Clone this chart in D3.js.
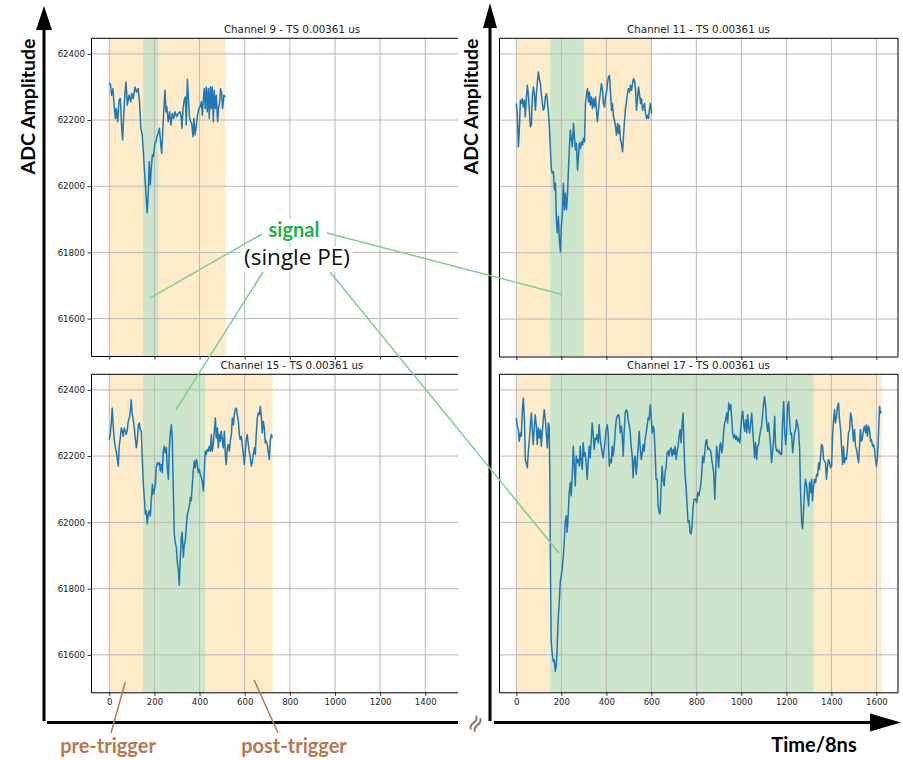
<!DOCTYPE html>
<html><head><meta charset="utf-8">
<script src="https://cdn.jsdelivr.net/npm/d3@7"></script>
<style>html,body{margin:0;padding:0;background:#fff}svg{display:block}</style>
</head><body>
<svg id="chart" width="903" height="760"></svg>
<script>
// ---------------- data ----------------
const xTicks = [0, 200, 400, 600, 800, 1000, 1200, 1400, 1600];
const yTicks = [61600, 61800, 62000, 62200, 62400];
const panelTitles = ["Channel 9 - TS 0.00361 us", "Channel 11 - TS 0.00361 us", "Channel 15 - TS 0.00361 us", "Channel 17 - TS 0.00361 us"];
const windowStart = [0, 0, 0, 0];
const signalStart = [150, 150, 150, 150];
const signalEnd = [217, 300, 425, 1321];
const windowEnd = [515, 600, 724, 1624];

const ch9 = [[0,62313],[6,62305],[10,62275],[16,62295],[22,62240],[27,62205],[31,62235],[37,62195],[43,62260],[49,62265],[55,62175],[59,62140],[64,62215],[69,62275],[74,62315],[80,62245],[87,62275],[95,62255],[99,62280],[106,62265],[114,62300],[121,62285],[128,62295],[134,62255],[140,62175],[146,62155],[151,62105],[155,62055],[160,62005],[164,61960],[168,61920],[173,61985],[177,62075],[182,62005],[186,62055],[191,62095],[196,62090],[202,62130],[207,62135],[211,62150],[217,62160],[222,62175],[227,62135],[232,62100],[236,62155],[241,62225],[247,62290],[251,62225],[255,62240],[261,62195],[267,62225],[273,62185],[279,62220],[285,62205],[291,62225],[298,62210],[306,62220],[313,62225],[318,62215],[322,62175],[327,62235],[332,62260],[337,62270],[341,62185],[346,62323],[350,62275],[355,62210],[360,62195],[365,62190],[371,62150],[375,62205],[380,62155],[386,62185],[391,62215],[397,62235],[402,62240],[408,62255],[412,62215],[417,62265],[421,62295],[425,62235],[430,62300],[434,62225],[439,62295],[443,62205],[448,62300],[452,62235],[456,62300],[461,62195],[465,62290],[470,62235],[474,62275],[480,62195],[484,62235],[489,62255],[493,62295],[498,62280],[502,62235],[508,62275],[514,62270]];

const ch11 = [[0,62250],[4,62220],[9,62120],[13,62165],[18,62260],[22,62250],[27,62265],[31,62240],[36,62260],[40,62210],[45,62270],[49,62305],[53,62280],[58,62230],[62,62180],[67,62185],[71,62270],[76,62300],[80,62280],[85,62230],[89,62280],[93,62310],[98,62345],[102,62325],[107,62310],[111,62280],[116,62250],[120,62230],[125,62240],[129,62270],[134,62280],[138,62260],[142,62230],[147,62180],[151,62120],[156,62050],[160,62040],[165,62045],[169,61990],[174,62010],[178,61900],[182,61860],[187,61910],[191,61840],[196,61802],[200,61880],[205,61920],[209,62010],[214,61930],[218,61980],[223,61930],[227,61970],[231,62040],[236,62120],[240,62170],[245,62140],[249,62120],[254,62190],[258,62150],[263,62110],[267,62130],[272,62050],[276,62090],[280,62130],[285,62115],[289,62135],[294,62125],[298,62145],[303,62135],[307,62250],[312,62280],[316,62295],[321,62255],[325,62285],[329,62245],[334,62270],[338,62235],[343,62265],[347,62240],[352,62270],[356,62230],[360,62195],[365,62230],[369,62260],[374,62285],[378,62310],[383,62290],[387,62250],[392,62240],[396,62270],[401,62285],[405,62310],[409,62330],[414,62335],[418,62290],[423,62230],[427,62250],[432,62210],[436,62200],[441,62180],[445,62155],[450,62190],[454,62160],[458,62185],[463,62140],[467,62130],[472,62105],[476,62150],[481,62200],[485,62235],[490,62260],[494,62280],[498,62295],[503,62285],[507,62305],[512,62290],[516,62310],[521,62325],[525,62320],[530,62290],[534,62230],[539,62270],[543,62300],[547,62280],[552,62250],[556,62265],[561,62230],[565,62240],[570,62250],[574,62220],[579,62205],[583,62215],[587,62205],[592,62235],[596,62250],[601,62220]];

const ch15 = [[0,62250],[4,62265],[9,62300],[13,62345],[18,62285],[22,62250],[27,62225],[31,62215],[35,62195],[40,62170],[44,62230],[49,62255],[53,62285],[58,62275],[62,62260],[66,62285],[71,62275],[75,62265],[80,62280],[84,62305],[89,62315],[93,62335],[97,62370],[102,62325],[106,62310],[111,62285],[115,62255],[120,62225],[124,62245],[129,62295],[133,62300],[137,62280],[142,62275],[146,62195],[151,62115],[155,62075],[160,62025],[164,62035],[168,61995],[173,62025],[177,62035],[182,62020],[186,62065],[191,62115],[195,62085],[199,62095],[204,62115],[208,62165],[213,62180],[217,62175],[222,62180],[226,62155],[230,62175],[235,62150],[239,62215],[244,62230],[248,62210],[253,62225],[257,62165],[262,62130],[266,62225],[270,62265],[275,62295],[279,62255],[284,62085],[288,61965],[292,61940],[297,61925],[301,61885],[306,61855],[310,61810],[315,61895],[319,61955],[323,61970],[328,61895],[332,61930],[337,61945],[341,61985],[346,62025],[350,62035],[355,62050],[359,62075],[363,62065],[368,62115],[372,62155],[377,62185],[381,62165],[386,62190],[390,62175],[394,62150],[399,62160],[403,62145],[408,62135],[412,62125],[417,62095],[421,62155],[425,62215],[430,62205],[434,62220],[439,62215],[443,62230],[448,62215],[452,62265],[456,62215],[461,62235],[465,62275],[470,62315],[474,62255],[479,62285],[483,62225],[487,62265],[492,62245],[496,62275],[501,62250],[505,62225],[510,62275],[514,62205],[518,62175],[523,62225],[527,62235],[532,62215],[536,62245],[541,62265],[545,62315],[550,62295],[554,62325],[558,62340],[563,62345],[567,62325],[572,62305],[576,62265],[580,62250],[585,62260],[589,62235],[594,62205],[598,62175],[603,62215],[607,62250],[611,62265],[616,62235],[620,62215],[625,62195],[629,62170],[634,62185],[638,62205],[643,62225],[647,62205],[651,62265],[656,62315],[660,62330],[665,62325],[669,62350],[674,62315],[678,62270],[682,62305],[687,62285],[691,62240],[695,62245],[700,62235],[704,62215],[709,62190],[713,62245],[718,62265],[722,62255]];

const ch17 = [[0,62315],[4,62290],[9,62280],[13,62245],[18,62270],[22,62260],[27,62340],[31,62375],[36,62310],[40,62190],[44,62180],[49,62165],[53,62210],[58,62250],[62,62290],[67,62330],[71,62280],[75,62235],[80,62290],[84,62325],[89,62290],[93,62235],[98,62285],[102,62255],[107,62280],[111,62230],[115,62270],[120,62310],[124,62340],[129,62310],[133,62270],[138,62225],[142,62300],[146,62290],[149,62130],[152,61830],[155,61640],[160,61600],[164,61580],[169,61585],[173,61550],[178,61570],[182,61630],[186,61710],[191,61760],[195,61820],[200,61840],[204,61860],[209,61900],[213,61940],[217,62000],[222,62020],[226,61970],[231,62030],[235,62090],[240,62120],[244,62080],[249,62150],[253,62230],[257,62180],[262,62110],[266,62200],[271,62180],[275,62190],[280,62170],[284,62230],[288,62190],[293,62160],[297,62240],[302,62200],[306,62210],[311,62170],[315,62130],[320,62190],[324,62230],[328,62195],[333,62250],[337,62300],[342,62260],[346,62220],[351,62255],[355,62250],[359,62265],[364,62240],[368,62295],[373,62250],[377,62230],[382,62210],[386,62195],[390,62220],[395,62250],[399,62280],[404,62295],[408,62270],[413,62170],[417,62190],[422,62180],[426,62230],[430,62200],[435,62230],[439,62270],[444,62310],[448,62320],[453,62325],[457,62320],[462,62270],[466,62290],[470,62270],[475,62200],[479,62270],[484,62330],[488,62340],[493,62335],[497,62310],[501,62295],[506,62275],[510,62230],[515,62200],[519,62135],[524,62190],[528,62200],[533,62145],[537,62180],[541,62220],[546,62275],[550,62230],[555,62190],[559,62205],[564,62235],[568,62215],[572,62250],[577,62270],[581,62290],[586,62315],[590,62310],[595,62355],[599,62320],[604,62270],[608,62290],[612,62280],[617,62210],[621,62130],[626,62130],[630,62050],[635,62030],[639,62025],[643,62100],[648,62170],[652,62130],[657,62110],[661,62150],[666,62170],[670,62210],[675,62215],[679,62200],[683,62220],[688,62225],[692,62200],[697,62220],[701,62205],[706,62230],[710,62190],[715,62215],[719,62230],[723,62260],[728,62280],[732,62240],[737,62300],[741,62330],[746,62210],[750,62140],[754,62110],[759,62050],[763,62000],[768,62005],[772,61970],[777,61965],[781,61990],[785,62045],[790,62070],[797,62070],[802,62060],[806,62090],[811,62080],[815,62095],[819,62110],[824,62150],[828,62200],[833,62180],[837,62210],[842,62245],[846,62250],[851,62220],[855,62225],[859,62220],[864,62215],[868,62190],[873,62170],[877,62150],[882,62070],[886,62150],[890,62230],[895,62200],[899,62165],[904,62230],[908,62240],[913,62210],[917,62230],[922,62280],[926,62300],[930,62310],[935,62330],[939,62300],[944,62360],[948,62340],[953,62355],[957,62315],[961,62270],[966,62255],[970,62265],[975,62250],[979,62260],[984,62245],[988,62255],[993,62240],[997,62280],[1001,62315],[1006,62335],[1010,62300],[1015,62275],[1019,62310],[1024,62270],[1028,62325],[1032,62290],[1037,62270],[1041,62300],[1046,62330],[1050,62285],[1055,62235],[1059,62195],[1063,62240],[1068,62190],[1072,62230],[1077,62235],[1081,62260],[1086,62280],[1090,62290],[1095,62330],[1099,62360],[1103,62380],[1108,62350],[1112,62300],[1117,62275],[1121,62300],[1126,62260],[1130,62230],[1134,62180],[1139,62215],[1143,62250],[1148,62320],[1152,62230],[1157,62215],[1161,62220],[1166,62210],[1170,62215],[1174,62205],[1179,62205],[1183,62300],[1188,62365],[1192,62280],[1197,62235],[1201,62270],[1205,62350],[1210,62365],[1214,62310],[1219,62265],[1223,62270],[1228,62210],[1232,62240],[1237,62270],[1241,62280],[1245,62310],[1250,62295],[1254,62280],[1259,62220],[1263,62090],[1268,62000],[1272,61980],[1276,62030],[1281,62100],[1285,62130],[1290,62110],[1294,62080],[1299,62050],[1303,62120],[1308,62090],[1312,62130],[1316,62065],[1321,62110],[1325,62130],[1330,62120],[1334,62145],[1339,62140],[1343,62180],[1347,62160],[1352,62200],[1356,62235],[1361,62230],[1365,62190],[1370,62185],[1374,62180],[1378,62130],[1383,62170],[1387,62190],[1392,62180],[1396,62165],[1401,62170],[1405,62260],[1410,62310],[1414,62340],[1418,62300],[1423,62320],[1427,62350],[1432,62360],[1436,62310],[1441,62280],[1445,62230],[1450,62175],[1454,62230],[1458,62180],[1463,62195],[1467,62190],[1472,62230],[1476,62270],[1481,62280],[1485,62330],[1489,62320],[1494,62280],[1498,62245],[1503,62280],[1507,62230],[1512,62220],[1516,62200],[1521,62180],[1525,62230],[1529,62280],[1534,62245],[1538,62255],[1543,62280],[1547,62290],[1552,62270],[1556,62295],[1560,62260],[1565,62290],[1569,62280],[1574,62245],[1578,62250],[1583,62230],[1587,62235],[1592,62220],[1596,62190],[1600,62170],[1605,62200],[1609,62260],[1614,62350],[1618,62330],[1622,62335]];

const seriesList = [ch9, ch11, ch15, ch17];

// annotation anchor points in each panel's data space [t, ADC]
const signalTargets = [[180, 61662], [199, 61675], [295, 62340], [190, 61907]];
const preTriggerTarget = [71, 61518];
const postTriggerTarget = [642, 61524];

// ---------------- layout ----------------
const svg = d3.select("#chart");
const leftDomain = [-81, 1700], rightDomain = [-77, 1696];
const yDomain = [61487, 62447];
const boxes = [
  {x0: 91, x1: 493, y0: 38.3, y1: 356, clipX: 458, dom: leftDomain, yLab: true, xLab: false},
  {x0: 499, x1: 898, y0: 38.3, y1: 356.5, clipX: 903, dom: rightDomain, yLab: false, xLab: false},
  {x0: 91, x1: 493, y0: 374.3, y1: 692.3, clipX: 458, dom: leftDomain, yLab: true, xLab: true},
  {x0: 499, x1: 898, y0: 374.3, y1: 692.3, clipX: 903, dom: rightDomain, yLab: false, xLab: true}
];
const ORANGE = "#fdebc9", GREEN = "#cde5cb", GRID = "#b8b8b8", LINE = "#1f77b4";
const defs = svg.append("defs");
const scales = [];

boxes.forEach((b, i) => {
  const x = d3.scaleLinear().domain(b.dom).range([b.x0, b.x1]);
  const y = d3.scaleLinear().domain(yDomain).range([b.y1, b.y0]);
  scales.push({x, y});
  defs.append("clipPath").attr("id", "clip" + i).append("rect")
    .attr("x", b.x0 - 60).attr("y", b.y0 - 20).attr("width", Math.min(b.clipX, b.x1 + 2) - (b.x0 - 60)).attr("height", b.y1 - b.y0 + 40);
  defs.append("clipPath").attr("id", "plot" + i).append("rect")
    .attr("x", b.x0).attr("y", b.y0).attr("width", Math.min(b.clipX, b.x1) - b.x0).attr("height", b.y1 - b.y0);

  const g = svg.append("g").attr("clip-path", `url(#clip${i})`);
  const p = g.append("g").attr("clip-path", `url(#plot${i})`);
  // trigger windows
  p.append("rect").attr("x", x(windowStart[i])).attr("y", b.y0)
    .attr("width", x(windowEnd[i]) - x(windowStart[i])).attr("height", b.y1 - b.y0).attr("fill", ORANGE);
  p.append("rect").attr("x", x(signalStart[i])).attr("y", b.y0)
    .attr("width", x(signalEnd[i]) - x(signalStart[i])).attr("height", b.y1 - b.y0).attr("fill", GREEN);
  // grid
  p.selectAll(".gx").data(xTicks).join("line")
    .attr("x1", d => x(d)).attr("x2", d => x(d)).attr("y1", b.y0).attr("y2", b.y1)
    .attr("stroke", GRID).attr("stroke-width", 1);
  p.selectAll(".gy").data(yTicks).join("line")
    .attr("x1", b.x0).attr("x2", b.x1).attr("y1", d => y(d)).attr("y2", d => y(d))
    .attr("stroke", GRID).attr("stroke-width", 1);
  // waveform
  p.append("path").datum(seriesList[i])
    .attr("d", d3.line().x(d => x(d[0])).y(d => y(d[1])))
    .attr("fill", "none").attr("stroke", LINE).attr("stroke-width", 1.5).attr("stroke-linejoin", "round");

  // axes
  const ax = g.append("g").attr("transform", `translate(0,${b.y1})`)
    .call(d3.axisBottom(x).tickValues(xTicks).tickSize(3.5).tickSizeOuter(0).tickPadding(3)
      .tickFormat(b.xLab ? d3.format("d") : () => ""));
  ax.select(".domain").attr("stroke", "#000").attr("stroke-width", 1);
  ax.selectAll(".tick line").attr("stroke", "#000").attr("stroke-width", 0.8);
  ax.selectAll("text").attr("font-family", "DejaVu Sans").attr("font-size", 8.6).attr("fill", "#222");
  const ay = g.append("g").attr("transform", `translate(${b.x0},0)`)
    .call(d3.axisLeft(y).tickValues(yTicks).tickSize(b.yLab ? 3.5 : 0).tickSizeOuter(0).tickPadding(2.5)
      .tickFormat(b.yLab ? d3.format("d") : () => ""));
  ay.select(".domain").attr("stroke", "#000").attr("stroke-width", 1);
  ay.selectAll(".tick line").attr("stroke", "#000").attr("stroke-width", 0.8);
  ay.selectAll("text").attr("font-family", "DejaVu Sans").attr("font-size", 8.6).attr("fill", "#222");
  // top and right spines
  g.append("line").attr("x1", b.x0).attr("x2", b.x1).attr("y1", b.y0).attr("y2", b.y0).attr("stroke", "#000").attr("stroke-width", 1);
  g.append("line").attr("x1", b.x1).attr("x2", b.x1).attr("y1", b.y0).attr("y2", b.y1).attr("stroke", "#000").attr("stroke-width", 1);
  // title
  svg.append("text").attr("x", (b.x0 + b.x1) / 2).attr("y", b.y0 - 5.3)
    .attr("text-anchor", "middle").attr("font-family", "DejaVu Sans").attr("font-size", 10.3).attr("fill", "#222")
    .text(panelTitles[i]);
});

// ---------------- overlay annotations ----------------
const ov = svg.append("g");
// big axis arrows
ov.append("line").attr("x1", 44).attr("x2", 44).attr("y1", 22).attr("y2", 721).attr("stroke", "#000").attr("stroke-width", 3);
ov.append("path").attr("d", "M44,6 L36,30 L52,30 Z").attr("fill", "#000");
ov.append("line").attr("x1", 490).attr("x2", 490).attr("y1", 22).attr("y2", 721).attr("stroke", "#000").attr("stroke-width", 3);
ov.append("path").attr("d", "M490,3 L483,28 L497,28 Z").attr("fill", "#000");
ov.append("line").attr("x1", 47).attr("x2", 458).attr("y1", 722.5).attr("y2", 722.5).attr("stroke", "#000").attr("stroke-width", 3.2);
ov.append("line").attr("x1", 494).attr("x2", 872).attr("y1", 722.5).attr("y2", 722.5).attr("stroke", "#000").attr("stroke-width", 3.2);
ov.append("path").attr("d", "M901,722.5 L870,713.5 L870,731.5 Z").attr("fill", "#000");
ov.append("text").attr("transform", "translate(476,724) rotate(-60)").attr("text-anchor", "middle")
  .attr("font-family", "DejaVu Sans").attr("font-size", 24).attr("fill", "#7a7a7a").attr("dominant-baseline", "middle").text("≈");

// axis titles
[[35, 106.5], [478, 106.5]].forEach(([tx, ty]) => {
  ov.append("text").attr("transform", `translate(${tx},${ty}) rotate(-90)`).attr("text-anchor", "middle")
    .attr("font-family", "Lato").attr("font-weight", 700).attr("font-size", 19.5).attr("fill", "#000").text("ADC Amplitude");
});
ov.append("text").attr("x", 814).attr("y", 752).attr("text-anchor", "middle")
  .attr("font-family", "Lato").attr("font-weight", 700).attr("font-size", 20).attr("fill", "#000").text("Time/8ns");

// signal annotation
const GL = "#7ccf93";
const sigStarts = [[262, 234], [327, 233], [263, 272], [330, 272]];
signalTargets.forEach((tg, i) => {
  const s = scales[i];
  ov.append("line").attr("x1", sigStarts[i][0]).attr("y1", sigStarts[i][1])
    .attr("x2", s.x(tg[0])).attr("y2", s.y(tg[1])).attr("stroke", GL).attr("stroke-width", 1.5);
});
ov.append("rect").attr("x", 265).attr("y", 219).attr("width", 58).attr("height", 24).attr("fill", "#fff");
ov.append("rect").attr("x", 241).attr("y", 247).attr("width", 112).attr("height", 25).attr("fill", "#fff");
ov.append("text").attr("x", 294).attr("y", 237).attr("text-anchor", "middle")
  .attr("font-family", "Lato").attr("font-weight", 700).attr("font-size", 20).attr("fill", "#22b04b").text("signal");
ov.append("text").attr("x", 297).attr("y", 265).attr("text-anchor", "middle")
  .attr("font-family", "Open Sans").attr("font-size", 22.5).attr("fill", "#111").text("(single PE)");

// trigger annotations
const BR = "#b8784e";
const s15 = scales[2];
ov.append("line").attr("x1", 111).attr("y1", 733).attr("x2", s15.x(preTriggerTarget[0])).attr("y2", s15.y(preTriggerTarget[1]))
  .attr("stroke", BR).attr("stroke-width", 1.5);
ov.append("line").attr("x1", 278).attr("y1", 733).attr("x2", s15.x(postTriggerTarget[0])).attr("y2", s15.y(postTriggerTarget[1]))
  .attr("stroke", BR).attr("stroke-width", 1.5);
ov.append("text").attr("x", 108).attr("y", 753).attr("text-anchor", "middle")
  .attr("font-family", "Lato").attr("font-weight", 700).attr("font-size", 20).attr("fill", BR).text("pre-trigger");
ov.append("text").attr("x", 294).attr("y", 753).attr("text-anchor", "middle")
  .attr("font-family", "Lato").attr("font-weight", 700).attr("font-size", 20).attr("fill", BR).text("post-trigger");
</script>
</body></html>
